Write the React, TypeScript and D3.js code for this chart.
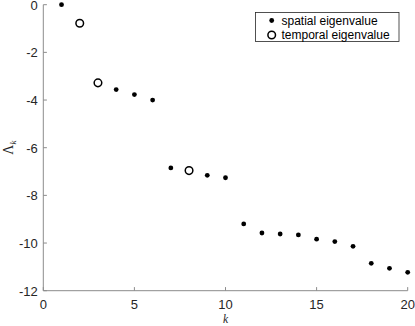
import React from "react";
import * as d3 from "d3";

// eigenvalue index k and value Λ_k
const spatialK = [1, 4, 5, 6, 7, 9, 10, 11, 12, 13, 14, 15, 16, 17, 18, 19, 20];
const spatialVals = [0, -3.56, -3.77, -4.0, -6.85, -7.16, -7.26, -9.2, -9.58, -9.62, -9.66, -9.84, -9.94, -10.14, -10.85, -11.06, -11.23];
const temporalK = [2, 3, 8];
const temporalVals = [-0.78, -3.28, -6.96];
const xTicks = [0, 5, 10, 15, 20];
const yTicks = [0, -2, -4, -6, -8, -10, -12];
const legendLabels = ["spatial eigenvalue", "temporal eigenvalue"];

const W = 415, H = 326;
const font = "'Liberation Sans', Arial, sans-serif";
const serif = "'Liberation Serif', 'Times New Roman', serif";

export default function App() {
  const x = d3.scaleLinear().domain([0, 20]).range([43.3, 407.7]);
  const y = d3.scaleLinear().domain([-12, 0]).range([290.7, 4.7]);
  const axisColor = "#8c8c8c";
  const textColor = "#262626";

  return (
    <svg width={W} height={H} style={{ position: "absolute", left: 0, top: 0 }} fontFamily={font}>
      <rect width={W} height={H} fill="white" />
      {/* axes (box off) */}
      <line x1={x(0)} x2={x(20)} y1={y(-12)} y2={y(-12)} stroke={axisColor} strokeWidth={1} />
      <line x1={x(0)} x2={x(0)} y1={y(-12)} y2={y(0)} stroke={axisColor} strokeWidth={1} />
      {xTicks.map((t) => (
        <g key={"x" + t}>
          <line x1={x(t)} x2={x(t)} y1={y(-12)} y2={y(-12) - 3.6} stroke={axisColor} />
          <text x={x(t)} y={y(-12) + 18.3} fontSize={13} textAnchor="middle" fill={textColor}>{t}</text>
        </g>
      ))}
      {yTicks.map((t) => (
        <g key={"y" + t}>
          <line x1={x(0)} x2={x(0) + 3.6} y1={y(t)} y2={y(t)} stroke={axisColor} />
          <text x={x(0) - 5.5} y={y(t) + 4.8} fontSize={13} textAnchor="end" fill={textColor}>{t}</text>
        </g>
      ))}
      {/* axis labels */}
      <text x={x(10)} y={322.5} fontSize={11.5} textAnchor="middle" fontStyle="italic" fontFamily={serif} fill={textColor}>k</text>
      <g transform={`translate(13,${y(-6)}) rotate(-90)`}>
        <text textAnchor="middle" fontSize={14} fontFamily={serif} fill={textColor}>
          Λ<tspan fontSize={9} fontStyle="italic" dy={3}>k</tspan>
        </text>
      </g>
      {/* points */}
      {spatialK.map((k, i) => (
        <circle key={"s" + k} cx={x(k)} cy={y(spatialVals[i])} r={2.4} fill="black" />
      ))}
      {temporalK.map((k, i) => (
        <circle key={"t" + k} cx={x(k)} cy={y(temporalVals[i])} r={3.8} fill="white" stroke="black" strokeWidth={1.5} />
      ))}
      {/* legend */}
      <g>
        <rect x={255.5} y={12.5} width={143.5} height={29} fill="white" stroke="#262626" strokeWidth={0.8} />
        <circle cx={271.7} cy={20.5} r={2.4} fill="black" />
        <circle cx={271.7} cy={35} r={3.8} fill="white" stroke="black" strokeWidth={1.5} />
        <text x={281.5} y={24.7} fontSize={12} fill="black">{legendLabels[0]}</text>
        <text x={281.5} y={39.2} fontSize={12} fill="black">{legendLabels[1]}</text>
      </g>
    </svg>
  );
}
